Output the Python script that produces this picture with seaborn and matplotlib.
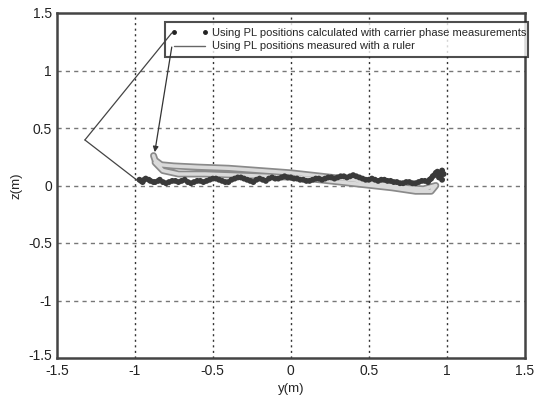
import numpy as np
import pandas as pd
import seaborn as sns
import matplotlib.pyplot as plt
import matplotlib.transforms as mtransforms
from matplotlib.lines import Line2D

# Carrier phase positions (dots)
phase_y = [-0.97, -0.96, -0.95, -0.94, -0.93, -0.91, -0.90, -0.88, -0.87, -0.85,
           -0.84, -0.82, -0.80, -0.78, -0.76, -0.74, -0.72, -0.70, -0.68, -0.66,
           -0.64, -0.62, -0.60, -0.58, -0.56, -0.54, -0.52, -0.50, -0.48, -0.46,
           -0.44, -0.42, -0.40, -0.38, -0.36, -0.34, -0.32, -0.30, -0.28, -0.26,
           -0.24, -0.22, -0.20, -0.18, -0.16, -0.14, -0.12, -0.10, -0.08, -0.06,
           -0.04, -0.02, 0.00, 0.02, 0.04, 0.06, 0.08, 0.10, 0.12, 0.14,
           0.16, 0.18, 0.20, 0.22, 0.24, 0.26, 0.28, 0.30, 0.32, 0.34,
           0.36, 0.38, 0.40, 0.42, 0.44, 0.46, 0.48, 0.50, 0.52, 0.54,
           0.56, 0.58, 0.60, 0.62, 0.64, 0.66, 0.68, 0.70, 0.72, 0.74,
           0.76, 0.78, 0.80, 0.82, 0.84, 0.86, 0.88, 0.89, 0.90, 0.91,
           0.92, 0.93, 0.94, 0.95, 0.96, 0.97, 0.98, 0.97, 0.96, 0.95]
phase_z = [0.05, 0.04, 0.03, 0.05, 0.06, 0.05, 0.04, 0.03, 0.03, 0.04,
           0.05, 0.03, 0.02, 0.03, 0.04, 0.04, 0.03, 0.04, 0.05, 0.03,
           0.02, 0.03, 0.04, 0.04, 0.03, 0.04, 0.05, 0.06, 0.06, 0.05,
           0.04, 0.03, 0.03, 0.05, 0.06, 0.07, 0.07, 0.06, 0.05, 0.04,
           0.03, 0.05, 0.06, 0.05, 0.04, 0.06, 0.07, 0.06, 0.06, 0.07,
           0.08, 0.07, 0.07, 0.06, 0.06, 0.05, 0.05, 0.04, 0.04, 0.05,
           0.06, 0.06, 0.05, 0.06, 0.07, 0.07, 0.06, 0.07, 0.08, 0.08,
           0.07, 0.08, 0.09, 0.08, 0.07, 0.06, 0.05, 0.05, 0.06, 0.05,
           0.04, 0.05, 0.05, 0.04, 0.04, 0.03, 0.03, 0.02, 0.02, 0.03,
           0.03, 0.02, 0.02, 0.03, 0.04, 0.04, 0.03, 0.05, 0.06, 0.08,
           0.09, 0.11, 0.12, 0.10, 0.08, 0.05, 0.10, 0.13, 0.11, 0.07]

# Ruler positions (line, out and back)
ruler_y = [-0.88, -0.87, -0.83, -0.75, -0.60, -0.40, -0.20, 0.00, 0.20, 0.40,
           0.60, 0.75, 0.85, 0.93, 0.90, 0.80, 0.65, 0.45, 0.25, 0.05,
           -0.15, -0.35, -0.55, -0.72, -0.82, -0.87]
ruler_z = [0.26, 0.22, 0.18, 0.17, 0.16, 0.15, 0.13, 0.11, 0.08, 0.05,
           0.01, -0.02, -0.03, 0.00, -0.05, -0.05, -0.02, 0.01, 0.04, 0.07,
           0.08, 0.09, 0.10, 0.10, 0.13, 0.20]

ticks = [-1.5, -1, -0.5, 0, 0.5, 1, 1.5]
tick_labels = ['-1.5', '-1', '-0.5', '0', '0.5', '1', '1.5']
legend_labels = ['Using PL positions calculated with carrier phase measurements',
                 'Using PL positions measured with a ruler']

sns.set_style('white')
plt.rcParams['font.family'] = ['Liberation Sans', 'DejaVu Sans']

fig = plt.figure(figsize=(5.36, 4), dpi=100)
ax = fig.add_axes([0.106, 0.105, 0.873, 0.8625])

ruler = pd.DataFrame({'y': ruler_y, 'z': ruler_z})
phase = pd.DataFrame({'y': phase_y, 'z': phase_z})

sns.lineplot(data=ruler, x='y', y='z', sort=False, estimator=None,
             color='#8a8a8a', linewidth=5.0, ax=ax, zorder=3)
sns.lineplot(data=ruler, x='y', y='z', sort=False, estimator=None,
             color='#dadada', linewidth=2.5, ax=ax, zorder=4)
sns.scatterplot(data=phase, x='y', y='z', color='#3a3a3a', s=18,
                edgecolor='none', ax=ax, zorder=5)

ax.set_xlim(-1.5, 1.5)
ax.set_ylim(-1.5, 1.5)
ax.set_xticks(ticks)
ax.set_xticklabels(tick_labels)
ax.set_yticks(ticks)
ax.set_yticklabels(tick_labels)
ax.tick_params(direction='in', length=3, labelsize=10, colors='#222222')
ax.tick_params(axis='x', pad=4)
for t in ticks[1:-1]:
    ax.axvline(t, color='#333333', linestyle=(0, (1.5, 2.5)), linewidth=1.0, zorder=1)
    ax.axhline(t, color='#777777', linestyle=(0, (3, 3)), linewidth=1.0, zorder=1)
for s in ax.spines.values():
    s.set_color('#444444')
    s.set_linewidth(1.8)

# nudge the lowest z label up so it clears the corner
lowest = ax.get_yticklabels()[0]
lowest.set_transform(lowest.get_transform() +
                     mtransforms.ScaledTranslation(0, 4 / 100, fig.dpi_scale_trans))

ax.set_xlabel('y(m)', fontsize=9.5, labelpad=4)
ax.set_ylabel('z(m)', fontsize=9.5, labelpad=4)

handles = [Line2D([], [], color='#222222', marker='.', linestyle='none', markersize=5),
           Line2D([], [], color='#666666', linewidth=1.0)]
leg = ax.legend(handles, legend_labels, loc='upper left',
                bbox_to_anchor=(0.231, 0.855, 0.775, 0.119), mode='expand',
                fontsize=8, frameon=True, fancybox=False, numpoints=2,
                handlelength=3.4, handletextpad=0.35, borderpad=0.5,
                labelspacing=0.35, borderaxespad=0)
leg.get_frame().set_edgecolor('#222222')
leg.get_frame().set_linewidth(1.5)
leg.set_zorder(10)

line_props = dict(arrowstyle='-', color='#444444', lw=0.9, shrinkA=0, shrinkB=0)
ax.annotate('', xy=(-0.98, 0.04), xytext=(-1.32, 0.396),
            arrowprops=line_props, zorder=11)
ax.annotate('', xy=(-1.32, 0.396), xytext=(-0.763, 1.326),
            arrowprops=line_props, zorder=11)
ax.annotate('', xy=(-0.872, 0.29), xytext=(-0.763, 1.204),
            arrowprops=dict(arrowstyle='-|>', color='#333333', lw=0.9,
                            mutation_scale=8, shrinkA=0, shrinkB=0), zorder=11)

fig.savefig('out.png', dpi=100)
